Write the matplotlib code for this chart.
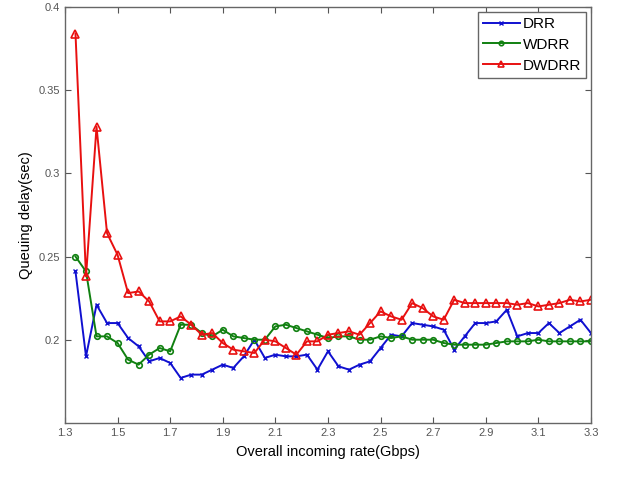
import matplotlib
matplotlib.use("Agg")
import matplotlib.pyplot as plt
import numpy as np

plt.rcParams['font.family'] = ['Liberation Sans', 'DejaVu Sans']

# incoming rate (Gbps), one point every 0.04
rate = np.round(np.arange(1.34, 3.3001, 0.04), 2)

drr = [0.241, 0.190, 0.221, 0.210, 0.210, 0.201, 0.196, 0.187, 0.189, 0.186,
       0.177, 0.179, 0.179, 0.182, 0.185, 0.183, 0.190, 0.200, 0.189, 0.191,
       0.190, 0.190, 0.191, 0.182, 0.193, 0.184, 0.182, 0.185, 0.187, 0.195,
       0.203, 0.202, 0.210, 0.209, 0.208, 0.206, 0.194, 0.202, 0.210, 0.210,
       0.211, 0.218, 0.202, 0.204, 0.204, 0.210, 0.204, 0.208, 0.212, 0.204]

wdrr = [0.250, 0.241, 0.202, 0.202, 0.198, 0.188, 0.185, 0.191, 0.195, 0.193,
        0.209, 0.209, 0.204, 0.202, 0.206, 0.202, 0.201, 0.200, 0.200, 0.208,
        0.209, 0.207, 0.205, 0.203, 0.201, 0.202, 0.202, 0.200, 0.200, 0.202,
        0.201, 0.202, 0.200, 0.200, 0.200, 0.198, 0.197, 0.197, 0.197, 0.197,
        0.198, 0.199, 0.199, 0.199, 0.200, 0.199, 0.199, 0.199, 0.199, 0.199]

dwdrr = [0.384, 0.238, 0.328, 0.264, 0.251, 0.228, 0.229, 0.223, 0.211, 0.211,
         0.214, 0.209, 0.203, 0.204, 0.198, 0.194, 0.193, 0.192, 0.200, 0.199,
         0.195, 0.191, 0.199, 0.199, 0.203, 0.204, 0.205, 0.203, 0.210, 0.217,
         0.214, 0.212, 0.222, 0.219, 0.214, 0.212, 0.224, 0.222, 0.222, 0.222,
         0.222, 0.222, 0.221, 0.222, 0.220, 0.221, 0.222, 0.224, 0.223, 0.224]

fig = plt.figure(figsize=(6.17, 4.83), dpi=100)
ax = fig.add_axes([0.1053, 0.1245, 0.8525, 0.861])

ax.plot(rate, drr, '-', color='#1010d0', marker='x', markersize=3, lw=1.4, label='DRR')
ax.plot(rate, wdrr, '-', color='#108010', marker='o', markersize=4, mfc='none', mew=1.2, lw=1.4, label='WDRR')
ax.plot(rate, dwdrr, '-', color='#e81010', marker='^', markersize=6, mfc='none', mew=1.2, lw=1.4, label='DWDRR')

ax.set_xlim(1.3, 3.3)
ax.set_ylim(0.15, 0.4)
ax.set_xticks(np.arange(1.3, 3.31, 0.2))
ax.set_xticklabels(['%.1f' % v for v in np.arange(1.3, 3.31, 0.2)])
ax.set_yticks([0.2, 0.25, 0.3, 0.35, 0.4])
ax.set_yticklabels(['0.2', '0.25', '0.3', '0.35', '0.4'])

ax.tick_params(direction='in', top=True, right=True, length=4, width=0.8,
               labelsize=8, labelcolor='#555555', color='#555555')
for s in ax.spines.values():
    s.set_color('#666666')
    s.set_linewidth(1.0)

ax.set_xlabel('Overall incoming rate(Gbps)', fontsize=10.5, labelpad=5)
ax.set_ylabel('Queuing delay(sec)', fontsize=10.5, labelpad=4)

leg = ax.legend(loc='upper right', fontsize=11, fancybox=False, framealpha=1,
                edgecolor='#666666', handlelength=2.4, handletextpad=0.2,
                borderpad=0.35, labelspacing=0.45, borderaxespad=0.3,
                markerscale=0.8)
leg.get_frame().set_linewidth(1.0)

fig.savefig('out.png', dpi=100)
